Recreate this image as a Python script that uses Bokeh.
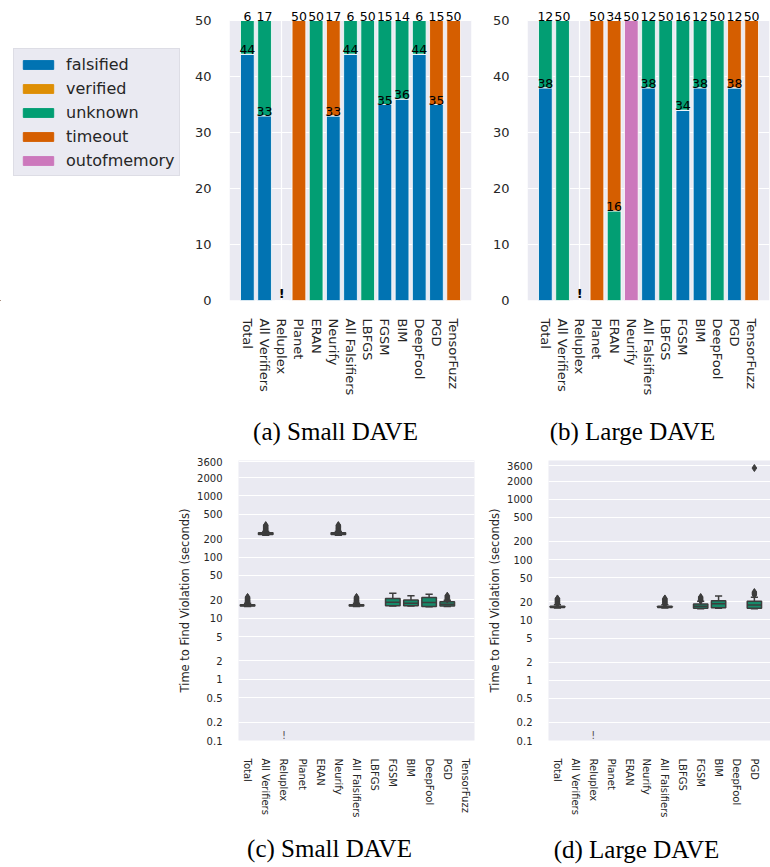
import numpy as np
from bokeh.plotting import figure
from bokeh.models import (ColumnDataSource, Range1d, FixedTicker, LabelSet,
                          Legend, LegendItem)
from bokeh.layouts import column, row
from bokeh.embed import file_html
from bokeh.resources import INLINE
from bokeh.core.properties import value

# ---------------- data ----------------
categories = ["Total", "All Verifiers", "Reluplex", "Planet", "ERAN", "Neurify",
              "All Falsifiers", "LBFGS", "FGSM", "BIM", "DeepFool", "PGD", "TensorFuzz"]
statuses = ["falsified", "verified", "unknown", "timeout", "outofmemory"]
status_colors = ["#0173B2", "#DE8F05", "#029E73", "#D55E00", "#CC78BC"]

small_falsified   = [44, 33, 0, 0, 0, 33, 44, 0, 35, 36, 44, 35, 0]
small_verified    = [0, 0, 0, 0, 0, 0, 0, 0, 0, 0, 0, 0, 0]
small_unknown     = [6, 17, 0, 0, 50, 0, 6, 50, 15, 14, 6, 0, 0]
small_timeout     = [0, 0, 0, 50, 0, 17, 0, 0, 0, 0, 0, 15, 50]
small_outofmemory = [0, 0, 0, 0, 0, 0, 0, 0, 0, 0, 0, 0, 0]

large_falsified   = [38, 0, 0, 0, 0, 0, 38, 0, 34, 38, 0, 38, 0]
large_verified    = [0, 0, 0, 0, 0, 0, 0, 0, 0, 0, 0, 0, 0]
large_unknown     = [12, 50, 0, 0, 16, 0, 12, 50, 16, 12, 50, 0, 0]
large_timeout     = [0, 0, 0, 50, 34, 0, 0, 0, 0, 0, 0, 12, 50]
large_outofmemory = [0, 0, 0, 0, 0, 50, 0, 0, 0, 0, 0, 0, 0]

error_categories = ["Reluplex"]
error_mark = "!"

count_ticks = [0, 10, 20, 30, 40, 50]
count_max = 50

time_ticks = [0.1, 0.2, 0.5, 1, 2, 5, 10, 20, 50, 100, 200, 500, 1000, 2000, 3600]
time_tick_labels = ["0.1", "0.2", "0.5", "1", "2", "5", "10", "20", "50", "100",
                    "200", "500", "1000", "2000", "3600"]

# small DAVE box plots
small_box_cats = ["Total", "All Verifiers", "Neurify", "All Falsifiers", "FGSM", "BIM", "DeepFool", "PGD"]
small_lo  = [15.5, 228, 228, 15.5, 15.8, 15.8, 15.4, 15.5]
small_q1  = [15.8, 234, 234, 15.8, 16.0, 16.0, 15.6, 15.8]
small_med = [16.2, 242, 242, 16.2, 18.2, 17.5, 18.0, 17.0]
small_q3  = [16.6, 250, 250, 16.6, 21.0, 19.9, 21.8, 18.6]
small_hi  = [17.6, 262, 262, 17.6, 25.5, 23.3, 24.6, 19.6]
small_flier_cats = (["Total"] * 10 + ["All Verifiers"] * 9 + ["Neurify"] * 9 +
                    ["All Falsifiers"] * 10 + ["PGD"] * 5)
small_flier_vals = [18.2, 18.6, 19.0, 19.4, 19.8, 20.2, 20.7, 21.2, 21.7, 22.3,
                    266, 273, 281, 289, 297, 306, 315, 325, 334,
                    266, 273, 281, 289, 297, 306, 315, 325, 334,
                    18.2, 18.6, 19.0, 19.4, 19.8, 20.2, 20.7, 21.2, 21.7, 22.3,
                    20.2, 21.0, 21.8, 22.6, 23.4]

# large DAVE box plots
large_box_cats = ["Total", "All Falsifiers", "FGSM", "BIM", "PGD"]
large_lo  = [15.8, 15.8, 15.3, 15.6, 15.3]
large_q1  = [16.1, 16.1, 15.6, 15.9, 15.6]
large_med = [16.5, 16.5, 16.8, 18.6, 17.6]
large_q3  = [16.9, 16.9, 18.4, 20.8, 20.3]
large_hi  = [17.8, 17.8, 20.3, 25.0, 23.8]
large_flier_cats = (["Total"] * 9 + ["All Falsifiers"] * 9 + ["FGSM"] * 5 + ["PGD"] * 5)
large_flier_vals = [18.3, 18.8, 19.3, 19.8, 20.3, 20.9, 21.5, 22.1, 22.7,
                    18.3, 18.8, 19.3, 19.8, 20.3, 20.9, 21.5, 22.1, 22.7,
                    20.8, 21.6, 22.4, 23.2, 24.0,
                    26.0, 27.0, 28.0, 29.0, 3300]

captions = ["(a) Small DAVE", "(b) Large DAVE", "(c) Small DAVE", "(d) Large DAVE"]
y_label_time = "Time to Find Violation (seconds)"

# ---------------- style ----------------
BG = "#EAEAF2"
TXT = "#262626"
BOXLINE = "#3d3d3d"
BOXFILL = "#168A6A"
FONT = "DejaVu Sans"
CAPFONT = "Liberation Serif"


def style_axes(p, xsize, ysize, xstand, ystand):
    for ax in p.axis:
        ax.axis_line_color = None
        ax.major_tick_line_color = None
        ax.minor_tick_line_color = None
        ax.major_label_text_color = TXT
        ax.major_label_text_font = FONT
    p.xaxis.major_label_text_font_size = xsize
    p.yaxis.major_label_text_font_size = ysize
    p.xaxis.major_label_standoff = xstand
    p.yaxis.major_label_standoff = ystand
    p.xaxis.major_label_orientation = "vertical"


def bar_fig(stacks, width, left, right):
    n = len(categories)
    x0, x1 = -1.04, 13.04
    # frame spans from the page top to the zero line; the plotted panel is 0..count_max
    y_top = count_max * 300.0 / 280.0
    p = figure(width=width, height=410, x_range=Range1d(x0, x1), y_range=Range1d(0, y_top),
               output_backend="svg", toolbar_location=None,
               min_border_left=left, min_border_right=right,
               min_border_top=0, min_border_bottom=110,
               background_fill_color="white", outline_line_color=None, border_fill_color="white")
    bgq = p.quad(left=[x0], right=[x1], bottom=[0], top=[count_max],
                 fill_color=BG, line_color=None)
    bgq.level = "image"
    data = dict(x=list(range(n)))
    for s, vals in zip(statuses, stacks):
        data[s] = vals
    src = ColumnDataSource(data)
    p.vbar_stack(statuses, x="x", width=0.8, fill_color=status_colors,
                 line_color="white", line_width=0.8, source=src)
    # count labels at the top of each non-empty segment
    lx, ly, lt = [], [], []
    for i in range(n):
        cum = 0
        for vals in stacks:
            v = vals[i]
            cum += v
            if v > 0:
                lx.append(i)
                ly.append(cum)
                lt.append(str(v))
    p.add_layout(LabelSet(x="x", y="y", text="t",
                          source=ColumnDataSource(dict(x=lx, y=ly, t=lt)),
                          text_align="center", text_baseline="bottom",
                          text_font_size="12.5px", text_color="black",
                          text_font=value(FONT)))
    ex = [categories.index(c) for c in error_categories]
    p.text(x=ex, y=[0] * len(ex), text=[error_mark] * len(ex), text_align="center",
           text_baseline="bottom", text_font_size="13px", text_font_style="bold",
           text_color="black", text_font=value(FONT))
    p.xaxis.ticker = FixedTicker(ticks=list(range(n)))
    p.xaxis.major_label_overrides = {i: c for i, c in enumerate(categories)}
    p.yaxis.ticker = FixedTicker(ticks=count_ticks)
    p.xgrid.ticker = FixedTicker(ticks=list(range(n)))
    p.ygrid.ticker = FixedTicker(ticks=count_ticks)
    p.grid.grid_line_color = "white"
    p.grid.grid_line_width = 1.2
    style_axes(p, "13px", "13px", 12, 12)
    return p


def box_fig(width, left, right, top, x_end, y_top, cats_, lo, q1, med, q3, hi, fc, fv):
    p = figure(width=width, height=377, x_range=Range1d(-0.5, x_end), y_range=Range1d(0.1, y_top),
               y_axis_type="log", output_backend="svg", toolbar_location=None,
               min_border_left=left, min_border_right=right,
               min_border_top=top, min_border_bottom=90,
               background_fill_color=BG, outline_line_color=None, border_fill_color="white")
    xs = [categories.index(c) for c in cats_]
    src = ColumnDataSource(dict(x=xs, lo=lo, q1=q1, med=med, q3=q3, hi=hi,
                                l=[x - 0.4 for x in xs], r=[x + 0.4 for x in xs],
                                cl=[x - 0.2 for x in xs], cr=[x + 0.2 for x in xs]))
    p.segment(x0="x", y0="q3", x1="x", y1="hi", source=src, line_color=BOXLINE, line_width=1.5)
    p.segment(x0="x", y0="lo", x1="x", y1="q1", source=src, line_color=BOXLINE, line_width=1.5)
    p.segment(x0="cl", y0="hi", x1="cr", y1="hi", source=src, line_color=BOXLINE, line_width=1.5)
    p.segment(x0="cl", y0="lo", x1="cr", y1="lo", source=src, line_color=BOXLINE, line_width=1.5)
    p.quad(left="l", right="r", bottom="q1", top="q3", source=src,
           fill_color=BOXFILL, line_color=BOXLINE, line_width=1.5)
    p.segment(x0="l", y0="med", x1="r", y1="med", source=src, line_color=BOXLINE, line_width=1.5)
    fx = [categories.index(c) for c in fc]
    p.scatter(x=fx, y=fv, marker="diamond", size=7, fill_color=BOXLINE, line_color=BOXLINE)
    ex = [categories.index(c) for c in error_categories]
    p.text(x=ex, y=[0.1] * len(ex), text=[error_mark] * len(ex), text_align="center",
           text_baseline="bottom", text_font_size="10px", text_color="#555555",
           text_font=value(FONT))
    n = len(categories)
    p.xaxis.ticker = FixedTicker(ticks=list(range(n)))
    p.xaxis.major_label_overrides = {i: c for i, c in enumerate(categories)}
    p.yaxis.ticker = FixedTicker(ticks=time_ticks)
    p.yaxis.major_label_overrides = {t: s for t, s in zip(time_ticks, time_tick_labels)}
    p.xgrid.visible = False
    p.ygrid.ticker = FixedTicker(ticks=time_ticks)
    p.ygrid.grid_line_color = "white"
    p.ygrid.grid_line_width = 1.2
    p.yaxis.axis_label = y_label_time
    p.yaxis.axis_label_text_font = FONT
    p.yaxis.axis_label_text_font_size = "11.5px"
    p.yaxis.axis_label_text_font_style = "normal"
    p.yaxis.axis_label_text_color = TXT
    p.yaxis.axis_label_standoff = 2
    style_axes(p, "10px", "10px", 12, 10)
    return p


def blank_fig(width, height):
    p = figure(width=width, height=height, x_range=Range1d(0, width), y_range=Range1d(0, height),
               output_backend="svg", toolbar_location=None, min_border=0,
               min_border_left=0, min_border_right=0, min_border_top=0, min_border_bottom=0,
               x_axis_location=None, y_axis_location=None, outline_line_color=None,
               background_fill_color="white", border_fill_color="white")
    p.grid.visible = False
    return p


# legend panel (renderers sit far outside the visible range; only their legend swatches show)
lg = blank_fig(190, 410)
items = []
for s, c in zip(statuses, status_colors):
    r = lg.vbar(x=[-5000], bottom=[-5000], top=[-4990], width=1, fill_color=c, line_color=c)
    items.append(LegendItem(label=s, renderers=[r]))
legend = Legend(items=items, location=(13, 124), orientation="vertical",
                background_fill_color=BG, background_fill_alpha=1.0,
                border_line_color="#D0D0D8", border_line_width=1,
                label_text_font=FONT, label_text_font_size="16px", label_text_color=TXT,
                glyph_width=38, glyph_height=11, label_height=20, spacing=4,
                padding=5, margin=0, label_standoff=9)
lg.add_layout(legend)

fa = bar_fig([small_falsified, small_verified, small_unknown, small_timeout, small_outofmemory],
             290, 39, 9)
fb = bar_fig([large_falsified, large_verified, large_unknown, large_timeout, large_outofmemory],
             290, 47, 1)

cap1 = blank_fig(770, 43)
cap1.text(x=[335, 632], y=[22, 22], text=captions[:2], text_align="center",
          text_baseline="middle", text_font=value(CAPFONT),
          text_font_size="25px", text_color="black")

fc = box_fig(480, 238, 6, 7, 12.5, 3800, small_box_cats, small_lo, small_q1, small_med,
             small_q3, small_hi, small_flier_cats, small_flier_vals)
fd = box_fig(290, 68, 0, 1, 11.9, 4400, large_box_cats, large_lo, large_q1, large_med,
             large_q3, large_hi, large_flier_cats, large_flier_vals)

cap2 = blank_fig(770, 37)
cap2.text(x=[329, 636], y=[19, 18], text=captions[2:], text_align="center",
          text_baseline="middle", text_font=value(CAPFONT),
          text_font_size="25px", text_color="black")

layout = column(row(lg, fa, fb), cap1, row(fc, fd), cap2)

open("out.html", "w").write(file_html(layout, INLINE))
